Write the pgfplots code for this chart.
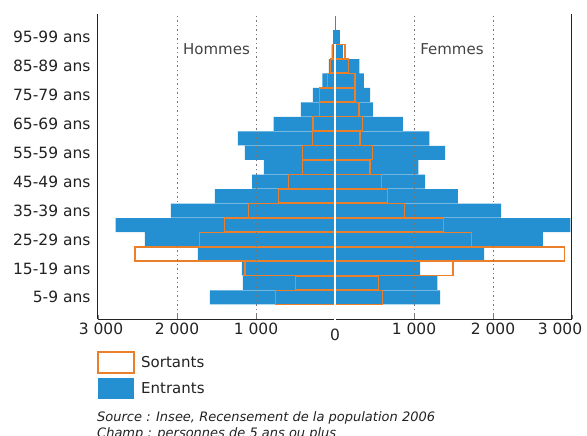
\documentclass[border=0pt]{standalone}
\usepackage{fontspec}
\setmainfont{DejaVu Sans}
\usepackage{pgfplots}
\usepackage{pgfplotstable}
\pgfplotsset{compat=1.18}
\definecolor{entrant}{RGB}{36,144,210}
\definecolor{sortant}{RGB}{234,128,44}
\definecolor{ink}{RGB}{34,34,34}
\definecolor{gridc}{RGB}{120,120,120}

% idx = age group (0 = 5-9 ans ... 18 = 95-99 ans); hommes en negatif
\pgfplotstableread{
idx   hE     hS     fE    fS
0    -1584  -757   1331   605
1    -1166  -498   1297   549
2    -1179  -1141  1077   1492
3    -1736  -2531  1888   2906
4    -2408  -1715  2632   1728
5    -2776  -1403  2978   1373
6    -2079  -1094  2104   883
7    -1521  -714   1555   663
8    -1048  -587   1141   592
9    -900   -414   1056   444
10   -1141  -414   1394   473
11   -1229  -288   1195   317
12   -777   -279   858    346
13   -431   -194   478    304
14   -279   -194   444    253
15   -161   -98    364    253
16   -76    -55    308    169
17   -42    -28    101    127
18   -25    nan    63     nan
}\pyramide

\begin{document}
\begin{tikzpicture}
\begin{axis}[
  at={(98pt,-319pt)}, anchor=south west,
  scale only axis, width=474pt, height=305pt,
  xmin=-3000, xmax=3000, ymin=-1.5, ymax=19.6,
  axis x line=bottom, axis y line=box,
  axis line style={-, ink, line width=1pt},
  clip=false,
  xtick={-3000,-2000,...,3000},
  xticklabels={\hspace*{6pt}3~000,2~000,1~000,\rule{0pt}{18pt}0,1~000,2~000,3~000\hspace*{24pt}},
  ytick={0,2,...,18},
  yticklabels={5-9 ans,15-19 ans,25-29 ans,35-39 ans,45-49 ans,55-59 ans,65-69 ans,75-79 ans,85-89 ans,95-99 ans},
  yticklabel pos=left,
  ytick style={draw=none},
  xtick style={gridc, line width=0.6pt},
  tick align=inside, major tick length=4pt,
  tick label style={font=\fontsize{15.5}{18}\selectfont, text=ink},
  /pgf/number format/assume math mode=true,
  xbar, bar width=0.97, bar shift=0pt,
]
\addplot[fill=entrant, draw=none] table[x=hE, y=idx] {\pyramide};
\addplot[fill=entrant, draw=none] table[x=fE, y=idx] {\pyramide};
\addplot[fill=none, draw=sortant, line width=1.3pt] table[x=hS, y=idx] {\pyramide};
\addplot[fill=none, draw=sortant, line width=1.3pt] table[x=fS, y=idx] {\pyramide};

\draw[gridc, line width=0.8pt, dash pattern=on 1.5pt off 3pt] (axis cs:-2000,-1.5) -- (axis cs:-2000,19.6);
\draw[gridc, line width=0.8pt, dash pattern=on 1.5pt off 3pt] (axis cs:-1000,-1.5) -- (axis cs:-1000,19.6);
\draw[gridc, line width=0.8pt, dash pattern=on 1.5pt off 3pt] (axis cs:1000,-1.5) -- (axis cs:1000,19.6);
\draw[gridc, line width=0.8pt, dash pattern=on 1.5pt off 3pt] (axis cs:2000,-1.5) -- (axis cs:2000,19.6);
\draw[white, line width=2pt] (axis cs:0,-1.6) -- (axis cs:0,17.5);
\draw[gridc, line width=0.8pt] (axis cs:0,17.5) -- (axis cs:0,19.45);

\node[font=\fontsize{15}{18}\selectfont, text=ink!85] at (axis cs:-1500,17.2) {Hommes};
\node[font=\fontsize{15}{18}\selectfont, text=ink!85] at (axis cs:1480,17.2) {Femmes};
\end{axis}

% legende
\draw[sortant, fill=white, line width=1.2pt] (98pt,-352pt) rectangle (134pt,-373pt);
\fill[entrant] (98pt,-378pt) rectangle (134pt,-399pt);
\node[anchor=west, font=\fontsize{15}{18}\selectfont, text=ink, inner sep=0pt] at (141pt,-362.5pt) {Sortants};
\node[anchor=west, font=\fontsize{15}{18}\selectfont, text=ink, inner sep=0pt] at (141pt,-388.5pt) {Entrants};

\node[anchor=base west, font=\fontsize{13}{16}\selectfont\itshape, text=ink, inner sep=0pt] at (97pt,-421pt) {Source : Insee, Recensement de la population 2006};
\node[anchor=base west, font=\fontsize{13}{16}\selectfont\itshape, text=ink, inner sep=0pt] at (97pt,-437pt) {Champ : personnes de 5 ans ou plus};

\pgfresetboundingbox
\path[use as bounding box] (0pt,0pt) rectangle (587pt,-436pt);
\end{tikzpicture}
\end{document}
